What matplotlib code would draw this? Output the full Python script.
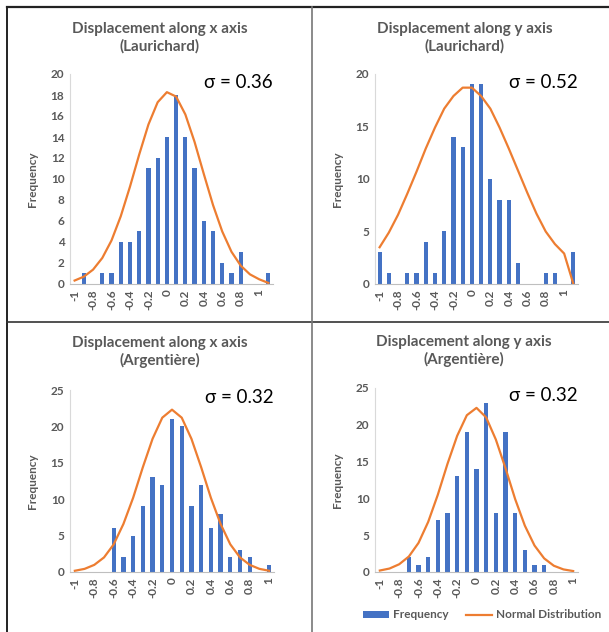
import numpy as np
import matplotlib.pyplot as plt
from matplotlib.lines import Line2D

plt.rcParams['font.family'] = ['Lato', 'DejaVu Sans']

# bin categories (Excel histogram bins)
bins_top = [-1.0, -0.9, -0.8, -0.7, -0.6, -0.5, -0.4, -0.3, -0.2, -0.1, 0.0,
            0.1, 0.2, 0.3, 0.4, 0.5, 0.6, 0.7, 0.8, 0.9, 1.0, 1.1]
bins_bottom = [-1.0, -0.9, -0.8, -0.7, -0.6, -0.5, -0.4, -0.3, -0.2, -0.1, 0.0,
               0.1, 0.2, 0.3, 0.4, 0.5, 0.6, 0.7, 0.8, 0.9, 1.0]

# Laurichard, x
freq_xl = [0, 1, 0, 1, 1, 4, 4, 5, 11, 12, 14, 18, 14, 11, 6, 5, 2, 1, 3, 0, 0, 1]
norm_xl = [0.33, 0.7, 1.37, 2.48, 4.15, 6.45, 9.27, 12.33, 15.19, 17.31, 18.27,
           17.85, 16.15, 13.53, 10.48, 7.52, 5.0, 3.07, 1.75, 0.92, 0.45, 0.1]
# Laurichard, y
freq_yl = [3, 1, 0, 1, 1, 4, 1, 5, 14, 13, 19, 19, 10, 8, 8, 2, 0, 0, 1, 1, 0, 3]
norm_yl = [3.5, 4.9, 6.6, 8.6, 10.7, 12.9, 14.9, 16.7, 17.9, 18.7, 18.7,
           17.9, 16.7, 14.9, 12.9, 10.8, 8.7, 6.7, 5.0, 3.8, 2.9, 0.0]
# Argentiere, x
freq_xa = [0, 0, 0, 0, 6, 2, 5, 9, 13, 12, 21, 20, 9, 12, 6, 8, 2, 3, 2, 0, 1]
norm_xa = [0.17, 0.43, 0.98, 2.0, 3.8, 6.6, 10.2, 14.4, 18.3, 21.2, 22.3,
           21.2, 18.3, 14.4, 10.2, 6.6, 3.8, 2.0, 0.98, 0.43, 0.17]
# Argentiere, y
freq_ya = [0, 0, 0, 2, 1, 2, 7, 8, 13, 19, 14, 23, 8, 19, 8, 3, 1, 1, 0, 0, 0]
norm_ya = [0.2, 0.47, 1.05, 2.1, 3.95, 6.8, 10.5, 14.7, 18.5, 21.3, 22.3,
           21.0, 18.0, 14.1, 9.9, 6.3, 3.6, 1.85, 0.85, 0.35, 0.13]

panels = [
    # title, sigma, bins, freq, normal, ymax, ystep, axes box (l, t, r, b), title centre (x, y) in px
    ("Displacement along x axis\n(Laurichard)", "σ = 0.36", bins_top, freq_xl, norm_xl, 20, 2,
     (70, 74, 273, 284), (160, 38)),
    ("Displacement along y axis\n(Laurichard)", "σ = 0.52", bins_top, freq_yl, norm_yl, 20, 5,
     (375, 74, 578, 284), (465, 38)),
    ("Displacement along x axis\n(Argentière)", "σ = 0.32", bins_bottom, freq_xa, norm_xa, 25, 5,
     (70, 390, 274, 572), (160, 352)),
    ("Displacement along y axis\n(Argentière)", "σ = 0.32", bins_bottom, freq_ya, norm_ya, 25, 5,
     (375, 388, 578, 572), (464, 351)),
]

W, H = 609, 632
fig = plt.figure(figsize=(W / 100, H / 100), dpi=100)

blue = '#4472C4'
orange = '#ED7D31'
gray = '#595959'

for title, sigma, bins, freq, normal, ymax, ystep, (l, t, r, b), (tx, ty) in panels:
    ax = fig.add_axes([l / W, 1 - b / H, (r - l) / W, (b - t) / H])
    x = np.arange(len(bins))
    bars = ax.bar(x, freq, width=0.45, color=blue, label='Frequency', zorder=2)
    line, = ax.plot(x, normal, color=orange, lw=1.6, label='Normal Distribution', zorder=3)
    ax.set_xlim(-0.5, len(bins) - 0.5)
    ax.set_ylim(0, ymax)
    ax.set_yticks(np.arange(0, ymax + 1, ystep))
    ax.set_xticks(x[::2])
    ax.set_xticklabels([f"{v:g}" for v in bins[::2]], rotation=90, va='top', ha='center')
    ax.tick_params(axis='both', length=0, labelsize=8.5, labelcolor=gray, pad=4)
    for lab in ax.get_xticklabels() + ax.get_yticklabels():
        lab.set_fontweight('bold')
    for s in ['top', 'right']:
        ax.spines[s].set_visible(False)
    ax.spines['left'].set_color('#D9D9D9')
    ax.spines['bottom'].set_color('#BFBFBF')
    ax.set_ylabel('Frequency', fontsize=8.5, color=gray, fontweight='bold', labelpad=9)
    fig.text(tx / W, 1 - ty / H, title, ha='center', va='center',
             fontsize=11, fontweight='bold', color=gray, linespacing=1.3)
    ax.text(1.0, 0.96, sigma, transform=ax.transAxes, ha='right', va='center',
            fontsize=13.5, color='black')

# legend under the last panel
fig.legend([bars, line], ['Frequency', 'Normal Distribution'], loc='center',
           bbox_to_anchor=(482 / W, 1 - 615 / H), ncol=2, frameon=False,
           prop={'size': 8.5, 'weight': 'bold'}, labelcolor=gray,
           handlelength=2.2, handleheight=0.5, columnspacing=1.5, handletextpad=0.3)

# table grid lines
def fline(x0, y0, x1, y1, color, lw):
    fig.add_artist(Line2D([x0 / W, x1 / W], [1 - y0 / H, 1 - y1 / H], color=color, lw=lw,
                          transform=fig.transFigure))

fline(7, 7, W, 7, '#222222', 1.6)
fline(7, 7, 7, H, '#222222', 1.4)
fline(7, 322, W, 322, '#333333', 1.2)
fline(312, 7, 312, H, '#777777', 1.2)

fig.savefig('out.png', dpi=100)
